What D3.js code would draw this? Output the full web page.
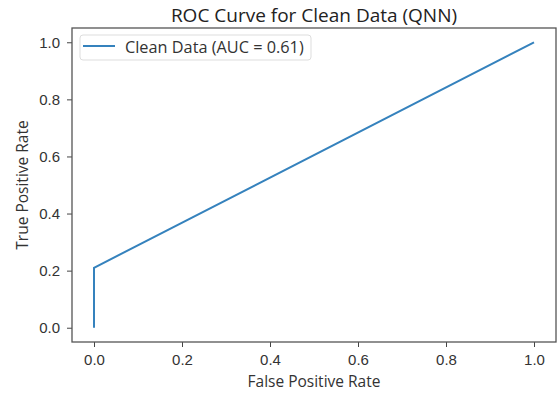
<!DOCTYPE html>
<meta charset="utf-8">
<style>
body { margin: 0; background: #fff; }
svg { font-family: "Open Sans", sans-serif; }
.tick text { fill: #333; font-size: 15px; }
.tick line { stroke: #444; }
.domain { stroke: none; }
</style>
<body>
<script src="https://cdn.jsdelivr.net/npm/d3@7"></script>
<script>
'use strict';

// ROC points
const fpr = [0, 0, 1];
const tpr = [0, 0.21, 1];
const xTicks = [0, 0.2, 0.4, 0.6, 0.8, 1.0];
const yTicks = [0, 0.2, 0.4, 0.6, 0.8, 1.0];
const seriesName = "Clean Data (AUC = 0.61)";

const width = 557, height = 394;
const box = {left: 72, right: 556, top: 28, bottom: 342};

const svg = d3.select("body").append("svg")
    .attr("width", width)
    .attr("height", height);

const x = d3.scaleLinear().domain([-0.05, 1.05]).range([box.left, box.right]);
const y = d3.scaleLinear().domain([-0.05, 1.05]).range([box.bottom, box.top]);

svg.append("g")
    .attr("transform", "translate(0," + box.bottom + ")")
    .call(d3.axisBottom(x).tickValues(xTicks).tickFormat(d3.format(".1f")).tickSize(5).tickPadding(7));

svg.append("g")
    .attr("transform", "translate(" + box.left + ",0)")
    .call(d3.axisLeft(y).tickValues(yTicks).tickFormat(d3.format(".1f")).tickSize(5).tickPadding(7));

// frame
svg.append("rect")
    .attr("x", box.left).attr("y", box.top)
    .attr("width", box.right - box.left).attr("height", box.bottom - box.top)
    .attr("fill", "none").attr("stroke", "#555").attr("stroke-width", 1.3);

const line = d3.line().x(d => x(d[0])).y(d => y(d[1]));
svg.append("path")
    .datum(fpr.map((v, i) => [v, tpr[i]]))
    .attr("d", line)
    .attr("fill", "none")
    .attr("stroke", "#3582bd")
    .attr("stroke-width", 2);

// legend
const lg = svg.append("g");
lg.append("rect")
    .attr("x", 80).attr("y", 35).attr("width", 231).attr("height", 25).attr("rx", 3)
    .attr("fill", "#fff").attr("stroke", "#ddd");
lg.append("line")
    .attr("x1", 83).attr("x2", 115).attr("y1", 46).attr("y2", 46)
    .attr("stroke", "#3582bd").attr("stroke-width", 2);
lg.append("text")
    .attr("x", 125).attr("y", 52.5)
    .attr("font-size", 16.3).attr("fill", "#333")
    .text(seriesName);

svg.append("text")
    .attr("x", (box.left + box.right) / 2).attr("y", 22)
    .attr("text-anchor", "middle").attr("font-size", 19).attr("fill", "#222")
    .text("ROC Curve for Clean Data (QNN)");

svg.append("text")
    .attr("x", (box.left + box.right) / 2).attr("y", 387)
    .attr("text-anchor", "middle").attr("font-size", 15.5).attr("fill", "#333")
    .text("False Positive Rate");

svg.append("text")
    .attr("transform", "translate(28," + (box.top + box.bottom) / 2 + ") rotate(-90)")
    .attr("text-anchor", "middle").attr("font-size", 15.5).attr("fill", "#333")
    .text("True Positive Rate");
</script>
</body>
